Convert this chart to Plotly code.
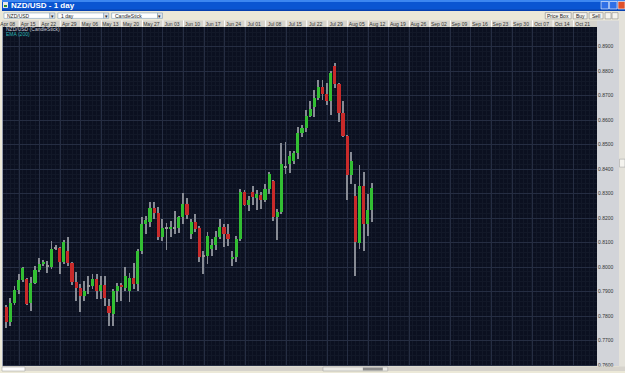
import plotly.graph_objects as go

# ---------------- data (NZD/USD, daily candles) ----------------
opens = [0.7836, 0.7775, 0.7852, 0.7909, 0.7949, 0.7953, 0.7852, 0.7937, 0.7990, 0.8014,
         0.8006, 0.8002, 0.8079, 0.8079, 0.8022, 0.8067, 0.8018, 0.7941, 0.7917, 0.7884,
         0.7925, 0.7925, 0.7953, 0.7905, 0.7929, 0.7840, 0.7811, 0.7901, 0.7927, 0.7917,
         0.7901, 0.7957, 0.7933, 0.8067, 0.8177, 0.8185, 0.8242, 0.8222, 0.8124, 0.8161,
         0.8157, 0.8161, 0.8161, 0.8205, 0.8258, 0.8136, 0.8185, 0.8161, 0.8047, 0.8047,
         0.8075, 0.8092, 0.8124, 0.8165, 0.8136, 0.8035, 0.8043, 0.8116, 0.8307, 0.8254,
         0.8307, 0.8282, 0.8295, 0.8274, 0.8319, 0.8352, 0.8205, 0.8226, 0.8410, 0.8421,
         0.8433, 0.8465, 0.8547, 0.8567, 0.8616, 0.8656, 0.8693, 0.8737, 0.8709, 0.8677,
         0.8823, 0.8750, 0.8632, 0.8538, 0.8376, 0.8291, 0.8100, 0.8331, 0.8177, 0.8234]
highs = [0.7844, 0.7876, 0.7925, 0.7974, 0.8002, 0.7957, 0.7962, 0.8006, 0.8039, 0.8030,
         0.8026, 0.8108, 0.8092, 0.8083, 0.8112, 0.8124, 0.8022, 0.7982, 0.7933, 0.7945,
         0.7966, 0.7974, 0.7974, 0.7966, 0.7966, 0.7872, 0.7913, 0.7937, 0.7937, 0.8002,
         0.7978, 0.8018, 0.8075, 0.8205, 0.8209, 0.8266, 0.8266, 0.8246, 0.8197, 0.8181,
         0.8189, 0.8230, 0.8209, 0.8303, 0.8282, 0.8197, 0.8217, 0.8169, 0.8067, 0.8144,
         0.8116, 0.8148, 0.8197, 0.8177, 0.8177, 0.8067, 0.8128, 0.8319, 0.8315, 0.8291,
         0.8331, 0.8315, 0.8307, 0.8339, 0.8388, 0.8356, 0.8238, 0.8506, 0.8510, 0.8473,
         0.8473, 0.8571, 0.8583, 0.8644, 0.8677, 0.8725, 0.8766, 0.8766, 0.8754, 0.8802,
         0.8835, 0.8754, 0.8681, 0.8542, 0.8469, 0.8339, 0.8417, 0.8388, 0.8299, 0.8343]
lows = [0.7750, 0.7762, 0.7844, 0.7892, 0.7941, 0.7844, 0.7823, 0.7933, 0.7982, 0.8006,
        0.7978, 0.7994, 0.8071, 0.7974, 0.8014, 0.8006, 0.7929, 0.7864, 0.7819, 0.7864,
        0.7892, 0.7913, 0.7872, 0.7872, 0.7840, 0.7758, 0.7758, 0.7860, 0.7864, 0.7905,
        0.7860, 0.7913, 0.7901, 0.8055, 0.8136, 0.8165, 0.8197, 0.8112, 0.8108, 0.8071,
        0.8124, 0.8136, 0.8140, 0.8177, 0.8197, 0.8116, 0.8144, 0.8022, 0.7974, 0.8014,
        0.8047, 0.8071, 0.8116, 0.8083, 0.8087, 0.8006, 0.8022, 0.8108, 0.8250, 0.8230,
        0.8254, 0.8234, 0.8238, 0.8266, 0.8299, 0.8189, 0.8112, 0.8217, 0.8380, 0.8384,
        0.8421, 0.8441, 0.8534, 0.8551, 0.8612, 0.8612, 0.8685, 0.8685, 0.8664, 0.8620,
        0.8733, 0.8595, 0.8530, 0.8274, 0.8339, 0.7966, 0.8075, 0.8067, 0.8128, 0.8185]
closes = [0.7775, 0.7852, 0.7909, 0.7949, 0.7998, 0.7848, 0.7937, 0.7990, 0.8014, 0.8022,
          0.8006, 0.8075, 0.8079, 0.8022, 0.8104, 0.8018, 0.7941, 0.7917, 0.7884, 0.7905,
          0.7925, 0.7953, 0.7905, 0.7929, 0.7876, 0.7815, 0.7901, 0.7925, 0.7921, 0.7966,
          0.7957, 0.7933, 0.8067, 0.8177, 0.8193, 0.8242, 0.8222, 0.8124, 0.8161, 0.8161,
          0.8165, 0.8161, 0.8205, 0.8258, 0.8213, 0.8185, 0.8157, 0.8043, 0.8047, 0.8128,
          0.8092, 0.8124, 0.8165, 0.8136, 0.8116, 0.8043, 0.8116, 0.8307, 0.8254, 0.8274,
          0.8287, 0.8299, 0.8274, 0.8319, 0.8380, 0.8205, 0.8226, 0.8421, 0.8410, 0.8453,
          0.8465, 0.8547, 0.8567, 0.8616, 0.8648, 0.8693, 0.8737, 0.8709, 0.8677, 0.8794,
          0.8750, 0.8632, 0.8538, 0.8376, 0.8433, 0.8104, 0.8331, 0.8177, 0.8234, 0.8323]

week_labels = ["Apr 08", "Apr 15", "Apr 22", "Apr 29", "May 06", "May 13", "May 20", "May 27",
               "Jun 03", "Jun 10", "Jun 17", "Jun 24", "Jul 01", "Jul 08", "Jul 15", "Jul 22",
               "Jul 29", "Aug 05", "Aug 12", "Aug 19", "Aug 26", "Sep 02", "Sep 09", "Sep 16",
               "Sep 23", "Sep 30", "Oct 07", "Oct 14", "Oct 21"]
price_ticks = [0.7600, 0.7700, 0.7800, 0.7900, 0.8000, 0.8100, 0.8200,
               0.8300, 0.8400, 0.8500, 0.8600, 0.8700, 0.8800, 0.8900]

# ---------------- geometry ----------------
W, H = 625, 373
CH_L, CH_R, CH_T, CH_B = 0, 597, 27, 368
PX_PER_DAY = 4.12
FIRST_CANDLE_PX = 4.3
REF_PX, REF_PRICE = 47, 0.89
PX_PER_UNIT = 2461.5
FIRST_WEEK_POS = -1.85   # index position of first week separator
LABEL_OFFSET = 9 / PX_PER_DAY  # label centre sits right of its separator


def fx(x):
    return x / W


def fy(y):
    return 1 - y / H


x_r0 = (CH_L - FIRST_CANDLE_PX) / PX_PER_DAY
x_r1 = (CH_R - FIRST_CANDLE_PX) / PX_PER_DAY
y_top = REF_PRICE + (REF_PX - CH_T) / PX_PER_UNIT
y_bot = REF_PRICE - (CH_B - REF_PX) / PX_PER_UNIT

n = len(opens)
idx = list(range(n))
week_pos = [FIRST_WEEK_POS + 5 * k for k in range(len(week_labels))]
label_pos = [p + LABEL_OFFSET for p in week_pos]

GREEN, RED, DOJI, WICK = "#33bf33", "#c82a2a", "#9a9a9a", "#878b94"
MIN_BODY = 0.0006

fig = go.Figure()

# wicks (thin bars from low to high)
fig.add_trace(go.Bar(x=idx, y=[highs[i] - lows[i] for i in idx], base=lows, width=0.22,
                     marker=dict(color=WICK, line=dict(width=0)),
                     showlegend=False, hoverinfo="skip"))


def body_trace(sel, color):
    xs = [i for i in idx if sel(i)]
    base, hgt = [], []
    for i in xs:
        d = abs(closes[i] - opens[i])
        lo = min(opens[i], closes[i])
        if d < MIN_BODY:
            lo -= (MIN_BODY - d) / 2
            d = MIN_BODY
        base.append(lo)
        hgt.append(d)
    return go.Bar(x=xs, y=hgt, base=base, width=0.76, marker=dict(color=color, line=dict(width=0)),
                  showlegend=False, hoverinfo="skip")


fig.add_trace(body_trace(lambda i: closes[i] > opens[i], GREEN))
fig.add_trace(body_trace(lambda i: closes[i] < opens[i], RED))
fig.add_trace(body_trace(lambda i: closes[i] == opens[i], DOJI))

# empty trace to carry the top date axis
fig.add_trace(go.Scatter(x=[], y=[], xaxis="x2", yaxis="y", showlegend=False, hoverinfo="skip"))

# ---------------- window chrome ----------------
shapes = []


def rect(x0, y0, x1, y1, fill, line=None, lw=0, layer="above"):
    shapes.append(dict(type="rect", xref="paper", yref="paper", x0=fx(x0), x1=fx(x1),
                       y0=fy(y1), y1=fy(y0), fillcolor=fill,
                       line=dict(color=line or fill, width=lw), layer=layer))


annotations = []


def text(x, y, s, size=5, color="#222", bold=False, anchor="left", family="Liberation Sans"):
    annotations.append(dict(xref="paper", yref="paper", x=fx(x), y=fy(y),
                            text=("<b>%s</b>" % s) if bold else s,
                            showarrow=False, xanchor=anchor, yanchor="middle",
                            font=dict(size=size, color=color, family=family)))


# title bar
rect(0, 0, 625, 11, "#0a55d2")
rect(0, 0, 625, 2, "#3c86f0")
rect(0, 9.5, 625, 11, "#0842b0")
rect(1, 2, 6, 8, "#e8e8e8")
rect(2, 5, 5, 7, "#2a8a2a")
text(7, 5.8, "NZD/USD - 1 day", size=8, color="white", bold=True)
# window buttons
rect(601, 1.5, 608.5, 9, "#2f6fe6", "#ffffff", 0.6)
rect(609.5, 1.5, 617, 9, "#2f6fe6", "#ffffff", 0.6)
rect(618, 1.5, 625, 9, "#e0512b", "#ffffff", 0.6)

# toolbar dropdowns
for (x0, x1, label) in [(2, 48, "NZD/USD"), (56, 102, "1 day"), (110, 156, "CandleStick")]:
    rect(x0, 13, x1, 18.5, "#ffffff", "#7f9db9", 0.6)
    rect(x1, 13, x1 + 5, 18.5, "#dfe3ea", "#7f9db9", 0.6)
    text(x0 + 1.5, 15.9, label, size=5)
    text(x1 + 2.5, 15.9, "▾", size=5, anchor="center", family="DejaVu Sans")

# right buttons
for (x0, x1, label) in [(545, 571, "Price Box"), (573, 587, "Buy"), (589, 603, "Sell")]:
    rect(x0, 12.7, x1, 19, "#f4f3ee", "#8a8a8a", 0.6)
    text((x0 + x1) / 2, 15.9, label, size=5, anchor="center")
rect(605, 12.7, 611, 19, "#f4f3ee", "#8a8a8a", 0.6)
rect(612, 12.7, 618, 19, "#f4f3ee", "#8a8a8a", 0.6)

# date header strip
rect(0, 20.5, 597, 27, "#d6d3cc", layer="below")
for p in week_pos:
    xp = FIRST_CANDLE_PX + p * PX_PER_DAY
    if 0 < xp < CH_R:
        shapes.append(dict(type="line", xref="paper", yref="paper", x0=fx(xp), x1=fx(xp),
                           y0=fy(27), y1=fy(20.5), line=dict(color="#ffffff", width=1), layer="below"))

# right price panel and scroll strip
rect(597, 20.5, 619, 368, "#d2d4d9", layer="below")
rect(619, 11, 625, 373, "#e4e2da")
rect(619.5, 160, 625, 168, "#f4f3ee", "#9a9a9a", 0.5)
# bottom strip
rect(0, 368.5, 625, 373, "#d6d3cc")
rect(0, 369, 23, 373, "#ffffff", "#9a9a9a", 0.5)
rect(322, 369, 387, 373, "#ecebe6", "#9a9a9a", 0.5)
rect(362, 369.5, 382, 372.5, "#8c8c8c")
rect(0, 27, 1, 368, "#9aa0b0")

# legend texts in chart
text(2, 29.5, "NZD/USD (CandleStick)", size=5, color="#c8ccd6")
text(2, 34, "EMA (200)", size=5, color="#2bb5b5")

axis_font = dict(size=5, color="#333333", family="Liberation Sans")
fig.update_layout(
    width=W, height=H, margin=dict(l=0, r=0, t=0, b=0),
    paper_bgcolor="#ece9d8", plot_bgcolor="#0b1020",
    barmode="overlay", bargap=0, showlegend=False,
    shapes=shapes, annotations=annotations,
    xaxis=dict(domain=[fx(CH_L), fx(CH_R)], range=[x_r0, x_r1],
               tickmode="array", tickvals=week_pos, showticklabels=False, ticks="",
               showgrid=True, gridcolor="#252d42", gridwidth=1, zeroline=False,
               showline=False, fixedrange=True,
               minor=dict(tickmode="linear", tick0=0, dtick=1, showgrid=True,
                          gridcolor="#121828", gridwidth=1)),
    xaxis2=dict(overlaying="x", matches="x", side="top", anchor="y",
                tickmode="array", tickvals=label_pos, ticktext=week_labels,
                ticks="", ticklabelstandoff=-1, ticklabeloverflow="allow", tickfont=axis_font,
                showgrid=False, zeroline=False, showline=False, fixedrange=True),
    yaxis=dict(domain=[fy(CH_B), fy(CH_T)], range=[y_bot, y_top], side="right",
               tickmode="array", tickvals=price_ticks, tickformat=".4f", ticks="",
               tickfont=axis_font, ticklabeloverflow="allow",
               showgrid=True, gridcolor="#252d42", gridwidth=1, zeroline=False,
               showline=False, fixedrange=True,
               minor=dict(tickmode="linear", tick0=0.76, dtick=0.002, showgrid=True,
                          gridcolor="#121828", gridwidth=1)),
)

fig.write_html("out.html", config=dict(displayModeBar=False))
